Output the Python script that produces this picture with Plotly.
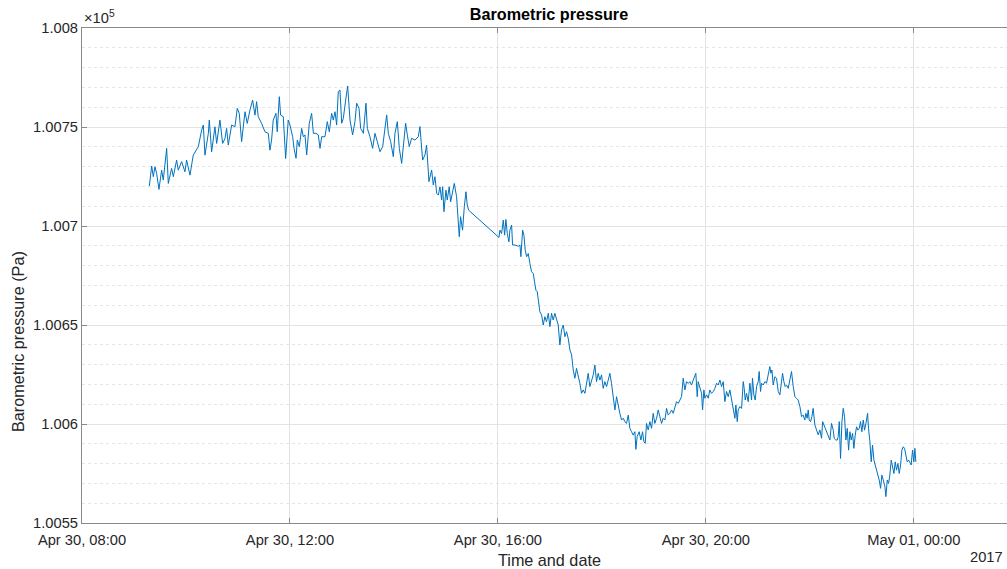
import pandas as pd
import plotly.graph_objects as go

# Minutes after 2017-04-30 08:00 and barometric pressure (Pa)
morning_min = [77.7, 80.4, 82.3, 84.2, 86.1, 88.8, 91.9, 93.8, 97.7, 99.6,
               103.4, 105.4, 109.2, 111.1, 115.0, 118.8, 120.7, 124.6, 128.4, 130.4,
               134.2, 138.1, 140.0, 141.9, 145.8, 146.9, 149.6, 153.4, 155.4, 159.2,
               162.3, 165.0, 166.9, 168.8, 172.7, 176.5, 179.2, 181.5, 184.2, 188.1,
               190.7, 193.8, 196.9, 199.6, 201.5, 203.4, 207.3, 211.1, 215.0, 216.9,
               218.8, 220.7, 223.8, 225.3, 227.7, 229.2, 232.3, 235.0, 238.0, 240.0]
morning_pa = [100720.2, 100730.3, 100724.9, 100729.9, 100726.6, 100718.5, 100728.2, 100723.2, 100739.2, 100721.5,
              100729.1, 100724.9, 100733.3, 100728.2, 100732.5, 100727.4, 100733.3, 100725.7, 100735.8, 100737.5,
              100740.0, 100748.4, 100751.0, 100735.8, 100746.8, 100753.5, 100737.5, 100750.1, 100741.7, 100753.5,
              100741.7, 100744.2, 100749.3, 100740.9, 100751.0, 100750.1, 100759.4, 100756.9, 100742.6, 100757.7,
              100751.8, 100758.5, 100763.6, 100756.0, 100762.8, 100755.2, 100751.8, 100747.6, 100746.8, 100738.3,
              100743.4, 100753.5, 100756.9, 100747.6, 100765.3, 100756.0, 100755.2, 100734.1, 100753.5, 100751.0]

midday_min = [243.1, 244.7, 247.0, 248.5, 250.8, 253.5, 255.4, 257.3, 259.3, 262.3,
              265.0, 267.0, 270.0, 272.7, 274.7, 276.6, 280.4, 283.1, 285.4, 288.1,
              290.0, 292.0, 293.9, 295.8, 297.7, 299.7, 301.6, 304.3, 306.6, 309.3,
              312.3, 315.0, 317.0, 319.7, 321.6, 324.7, 327.7, 329.3, 332.3, 335.4,
              338.1, 340.8, 343.9, 347.0, 349.6, 351.6, 353.5, 356.2, 359.3, 361.2,
              363.9, 366.2, 368.9, 370.8, 373.5, 375.4, 377.7, 380.4, 384.3, 388.1,
              390.0, 393.1, 395.8, 397.7, 400.4, 403.5, 405.4, 407.3, 409.3]
midday_pa = [100745.1, 100739.2, 100734.2, 100743.4, 100740.1, 100749.3, 100745.1, 100746.0, 100735.9, 100751.9,
             100756.9, 100746.8, 100746.8, 100746.0, 100739.2, 100745.1, 100745.1, 100752.7, 100747.6, 100756.9,
             100753.5, 100757.7, 100751.0, 100767.9, 100768.7, 100751.9, 100754.4, 100763.6, 100770.7, 100753.5,
             100746.0, 100752.7, 100762.0, 100759.4, 100749.3, 100746.8, 100762.0, 100749.3, 100745.1, 100739.2,
             100746.8, 100742.6, 100737.5, 100740.1, 100748.5, 100756.1, 100746.8, 100742.6, 100735.0, 100746.8,
             100752.7, 100739.2, 100731.6, 100739.2, 100751.9, 100746.0, 100740.1, 100744.3, 100743.4, 100745.1,
             100750.2, 100733.3, 100735.9, 100740.9, 100722.4, 100728.3, 100720.7, 100724.9, 100716.5]

afternoon_min = [411.2, 413.1, 415.0, 416.2, 417.7, 420.0, 421.5, 423.8, 425.4, 427.7,
                 429.6, 432.3, 434.2, 435.4, 436.9, 439.2, 441.2, 443.1, 444.6, 446.2,
                 481.2, 482.3, 484.2, 486.2, 487.7, 489.2, 490.8, 492.7, 493.8, 495.8,
                 496.9, 499.6, 503.5, 505.4, 506.5, 508.5, 510.0, 511.5, 513.1, 515.0,
                 516.9, 518.8, 520.8, 521.9, 523.8, 525.4, 527.7]
afternoon_pa = [100715.6, 100719.8, 100713.1, 100719.8, 100707.2, 100718.1, 100713.1, 100719.8, 100712.2, 100718.1,
                100721.5, 100714.8, 100703.0, 100694.6, 100704.7, 100697.9, 100709.7, 100717.3, 100710.6, 100708.0,
                100694.2, 100697.9, 100696.2, 100703.0, 100695.4, 100703.3, 100696.2, 100692.0, 100697.9, 100700.5,
                100690.4, 100690.4, 100689.8, 100690.4, 100684.5, 100697.9, 100695.4, 100687.8, 100684.5, 100686.1,
                100681.1, 100676.9, 100676.0, 100672.7, 100667.6, 100666.8, 100659.2]

evening_min = [528.4, 530.4, 532.3, 534.2, 536.1, 538.1, 540.0, 541.9, 543.8, 545.7,
               547.7, 549.6, 551.5, 553.4, 555.4, 557.3, 559.2, 561.1, 563.1, 565.0,
               566.9, 568.8, 570.7, 572.7, 574.6, 576.5, 578.4, 580.4, 582.3, 584.2,
               586.1, 588.1, 590.0, 591.9, 593.8, 595.7, 597.7, 599.6, 601.5, 603.4,
               605.4, 607.3, 609.2, 611.1, 613.1, 615.0, 616.9, 618.8, 620.7, 622.7,
               624.6, 626.5, 628.4, 630.4, 632.3, 634.2, 636.1, 638.1, 639.2, 640.7,
               643.0, 645.0, 646.9, 648.4, 650.0, 651.5, 653.4, 655.4, 657.3, 659.2,
               661.1, 663.1, 665.0, 666.9, 668.8, 670.7, 672.7, 674.6, 676.5, 678.4,
               680.4, 682.3, 684.2, 686.1, 688.1, 690.0, 691.9, 693.8, 695.8, 697.7,
               699.6, 701.5, 703.5, 705.4, 707.3, 708.4, 710.0, 711.1]
evening_pa = [100656.7, 100655.1, 100650.0, 100654.2, 100651.7, 100655.9, 100649.2, 100655.9, 100652.5, 100655.9,
              100653.4, 100650.0, 100639.9, 100647.5, 100650.0, 100644.1, 100646.6, 100643.3, 100637.4, 100634.9,
              100627.3, 100623.1, 100628.1, 100624.8, 100620.5, 100615.5, 100617.2, 100615.5, 100620.5, 100625.6,
              100618.9, 100621.4, 100624.8, 100629.8, 100621.4, 100625.6, 100622.2, 100624.8, 100618.0, 100621.4,
              100618.9, 100622.2, 100625.6, 100620.5, 100614.6, 100607.1, 100613.8, 100608.8, 100605.4, 100602.0,
              100602.9, 100601.2, 100600.3, 100604.5, 100597.8, 100596.1, 100594.4, 100596.1, 100587.2, 100593.6,
              100596.1, 100591.9, 100596.1, 100591.1, 100590.2, 100600.3, 100597.0, 100601.2, 100597.8, 100605.4,
              100600.3, 100602.9, 100607.1, 100603.7, 100600.3, 100602.9, 100602.0, 100607.9, 100604.5, 100605.4,
              100607.1, 100605.4, 100608.8, 100611.3, 100610.4, 100612.1, 100613.8, 100623.1, 100617.2, 100621.4,
              100620.5, 100621.4, 100619.7, 100622.2, 100623.9, 100625.6, 100613.8, 100621.4]

night_min = [715.0, 716.2, 717.7, 718.8, 720.8, 722.7, 724.6, 726.5, 728.5, 730.4,
             732.3, 734.2, 736.2, 738.1, 740.0, 741.9, 743.8, 745.8, 747.7, 749.6,
             751.5, 753.5, 754.6, 756.2, 757.3, 759.2, 761.2, 763.1, 764.2, 765.4,
             766.9, 768.8, 770.8, 772.7, 773.8, 775.4, 776.9, 778.5, 780.4, 781.5,
             783.1, 784.2, 786.2, 788.1, 790.0, 791.9, 793.8, 795.0, 796.2, 797.7,
             799.6, 801.5, 803.5, 805.4, 807.3, 808.5, 810.0, 811.5, 813.1, 815.0,
             816.9, 818.8, 820.8, 822.7, 824.6, 826.5, 828.5, 830.4, 832.3, 834.2,
             835.4, 836.9, 838.1, 839.2, 840.8, 842.3, 843.8, 845.8, 847.7, 849.6,
             851.5, 853.5]
night_pa = [100615.5, 100607.1, 100617.2, 100613.0, 100614.7, 100613.0, 100617.2, 100615.5, 100616.4, 100618.0,
            100620.6, 100619.7, 100622.2, 100618.9, 100621.4, 100611.3, 100616.4, 100613.8, 100617.2, 100612.1,
            100606.2, 100602.9, 100609.6, 100601.2, 100607.1, 100608.8, 100607.9, 100621.4, 100618.0, 100612.1,
            100615.5, 100611.3, 100620.6, 100612.1, 100623.1, 100614.7, 100612.1, 100618.9, 100621.4, 100626.5,
            100616.4, 100620.6, 100619.7, 100621.4, 100620.6, 100624.8, 100629.0, 100625.6, 100627.3, 100619.7,
            100623.9, 100623.1, 100616.4, 100614.7, 100623.1, 100625.6, 100621.4, 100618.9, 100619.7, 100618.0,
            100622.2, 100626.5, 100618.9, 100613.8, 100613.0, 100612.1, 100608.8, 100603.7, 100604.5, 100602.0,
            100605.4, 100602.9, 100607.1, 100602.0, 100601.2, 100603.7, 100607.9, 100599.5, 100597.0, 100594.5,
            100597.0, 100592.8]

late_min = [854.7, 856.2, 858.5, 860.0, 861.6, 863.1, 865.0, 867.0, 868.1, 870.0,
            871.6, 872.7, 873.9, 875.4, 877.0, 878.5, 880.0, 881.6, 883.1, 884.7,
            886.2, 887.7, 889.3, 890.8, 892.3, 893.9, 895.4, 897.0, 898.5, 900.0,
            901.6, 903.1, 904.7, 906.6, 907.7, 909.3, 910.8, 912.3, 913.9, 915.4,
            917.0, 918.5, 920.0, 921.6, 923.1, 924.7, 926.6, 927.7, 929.3, 930.8,
            932.3, 933.9, 935.4, 937.0, 938.5, 940.0, 941.6, 943.1, 944.7, 946.2,
            947.7, 949.3, 950.8, 952.3, 953.9, 955.4, 956.9, 958.5, 960.0, 961.2,
            962.3]
late_pa = [100601.2, 100599.5, 100596.9, 100594.4, 100592.7, 100591.9, 100600.3, 100596.9, 100592.7, 100591.9,
           100591.9, 100593.6, 100601.2, 100582.6, 100601.2, 100607.9, 100603.7, 100591.9, 100597.8, 100586.8,
           100596.1, 100591.9, 100595.3, 100587.7, 100594.4, 100598.6, 100596.9, 100597.8, 100601.2, 100596.1,
           100602.0, 100596.9, 100600.3, 100605.4, 100597.8, 100591.0, 100580.9, 100589.4, 100581.8, 100579.3,
           100576.7, 100575.0, 100571.7, 100567.5, 100574.2, 100571.7, 100568.3, 100563.3, 100571.7, 100570.0,
           100574.2, 100581.8, 100578.4, 100575.0, 100580.9, 100576.7, 100580.1, 100575.0, 100579.3, 100586.8,
           100588.5, 100587.7, 100584.3, 100580.9, 100581.8, 100580.1, 100579.3, 100586.8, 100580.9, 100587.7,
           100580.9]

x_tick_times = ["2017-04-30 08:00", "2017-04-30 12:00", "2017-04-30 16:00",
                "2017-04-30 20:00", "2017-05-01 00:00"]
x_tick_labels = ["Apr 30, 08:00", "Apr 30, 12:00", "Apr 30, 16:00",
                 "Apr 30, 20:00", "May 01, 00:00"]
y_tick_vals = [100550, 100600, 100650, 100700, 100750, 100800]
y_tick_labels = ["1.0055", "1.006", "1.0065", "1.007", "1.0075", "1.008"]

start = pd.Timestamp("2017-04-30 08:00")
minutes = morning_min + midday_min + afternoon_min + evening_min + night_min + late_min
pressure = morning_pa + midday_pa + afternoon_pa + evening_pa + night_pa + late_pa
times = [start + pd.Timedelta(minutes=m) for m in minutes]

FONT = "Liberation Sans, Arial, Helvetica, sans-serif"
TXT = "#262626"
AX = "#8a8a8a"
GRID = "#e3e3e3"

fig = go.Figure()
fig.add_trace(go.Scatter(x=times, y=pressure, mode="lines",
                         line=dict(color="#0072BD", width=1), showlegend=False))

fig.update_layout(
    width=1007, height=569,
    margin=dict(l=82, r=0, t=28, b=46),
    paper_bgcolor="white", plot_bgcolor="white",
    font=dict(family=FONT, color=TXT, size=14.7),
    title=dict(text="<b>Barometric pressure</b>", x=549 / 1007, xref="container",
               xanchor="center", y=1 - 14 / 569, yref="container", yanchor="middle",
               font=dict(size=16.2, color="#000000", family=FONT)),
    xaxis=dict(
        type="date",
        range=["2017-04-30 08:00", "2017-05-01 01:47:30"],
        tickmode="array", tickvals=x_tick_times, ticktext=x_tick_labels,
        ticks="inside", ticklen=5, tickcolor=AX, tickwidth=1,
        showline=True, linecolor=AX, linewidth=1, mirror="ticks",
        showgrid=True, gridcolor=GRID, gridwidth=1, zeroline=False,
        tickfont=dict(size=14.7, color=TXT, family=FONT),
        ticklabelstandoff=3,
    ),
    yaxis=dict(
        range=[100550, 100800],
        tickmode="array", tickvals=y_tick_vals, ticktext=y_tick_labels,
        ticks="inside", ticklen=5, tickcolor=AX, tickwidth=1,
        showline=True, linecolor=AX, linewidth=1, mirror=False,
        showgrid=True, gridcolor=GRID, gridwidth=1, zeroline=False,
        tickfont=dict(size=14.7, color=TXT, family=FONT),
        minor=dict(dtick=10, tick0=100550, showgrid=True, gridcolor="#e6e6e6",
                   griddash="dot", gridwidth=1, ticks=""),
    ),
    annotations=[
        dict(text="\u00d710<sup>5</sup>", xref="paper", yref="paper", x=0, y=1,
             xanchor="left", yanchor="bottom", showarrow=False,
             font=dict(size=14.7, color=TXT, family=FONT)),
        dict(text="Time and date", xref="paper", yref="paper", x=(549 - 82) / 925,
             y=(523 - 560) / 495, xanchor="center", yanchor="middle", showarrow=False,
             font=dict(size=16.2, color=TXT, family=FONT)),
        dict(text="2017", xref="paper", yref="paper", x=(1005 - 82) / 925,
             y=(523 - 557) / 495, xanchor="right", yanchor="middle", showarrow=False,
             font=dict(size=14.7, color=TXT, family=FONT)),
        dict(text="Barometric pressure (Pa)", xref="paper", yref="paper",
             x=(18 - 82) / 925, y=(523 - 342) / 495, textangle=-90,
             xanchor="center", yanchor="middle", showarrow=False,
             font=dict(size=16.2, color=TXT, family=FONT)),
    ],
)

fig.write_html("out.html", config={"displayModeBar": False},
               post_script="document.body.style.margin='0';document.body.style.overflow='hidden';")
